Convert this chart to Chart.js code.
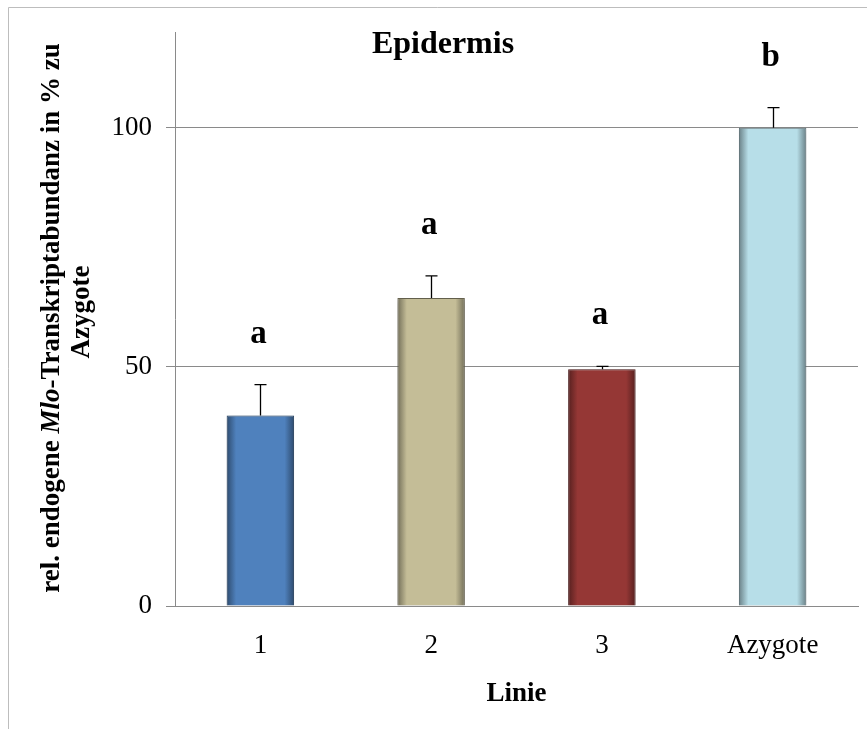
<!DOCTYPE html>
<html>
<head>
<meta charset="utf-8">
<script src="https://cdn.jsdelivr.net/npm/chart.js@4.4.1/dist/chart.umd.min.js"></script>
<style>
  html, body { margin: 0; padding: 0; background: #ffffff; }
  #wrap { width: 867px; height: 729px; position: relative; }
</style>
</head>
<body>
<div id="wrap"><canvas id="chart" width="867" height="729"></canvas></div>
<script>
// Relative endogenous Mlo transcript abundance (epidermis), % of azygote
const categories = ['1', '2', '3', 'Azygote'];
const means = [39.8, 64.4, 49.5, 100];
const errors = [6.5, 4.6, 0.6, 4.2];
const groupLetters = ['a', 'a', 'a', 'b'];
const yTicks = [0, 50, 100];

const SERIF = "'Liberation Serif', 'Times New Roman', serif";
const barColors = ['#4F81BD', '#C4BD97', '#953735', '#B7DEE8'];
const BAR_PCT = 0.395;
const AXIS_GREY = '#8a8a8a';

function shade(hex, f) {
  const n = parseInt(hex.slice(1), 16);
  const r = Math.round(((n >> 16) & 255) * f);
  const g = Math.round(((n >> 8) & 255) * f);
  const b = Math.round((n & 255) * f);
  return `rgb(${r},${g},${b})`;
}

// Horizontal gradient: darker at the bar edges, flat in the middle
function barFill(ctx) {
  const i = ctx.dataIndex;
  if (ctx.type !== 'data') return barColors[0];
  const base = barColors[i];
  const chart = ctx.chart;
  const xs = chart.scales && chart.scales.x;
  if (!xs || !chart.chartArea || !isFinite(xs.width) || xs.width <= 0) return base;
  const cx = xs.getPixelForValue(i);
  const w = (xs.width / categories.length) * BAR_PCT;
  const g = chart.ctx.createLinearGradient(cx - w / 2, 0, cx + w / 2, 0);
  const edge = shade(base, 0.58);
  g.addColorStop(0, edge);
  g.addColorStop(0.14, base);
  g.addColorStop(0.86, base);
  g.addColorStop(1, edge);
  return g;
}

const decorations = {
  id: 'decorations',
  beforeDraw(chart) {
    const c = chart.ctx;
    c.save();
    c.fillStyle = '#ffffff';
    c.fillRect(0, 0, chart.width, chart.height);
    // outer frame
    c.strokeStyle = '#bdbdbd';
    c.lineWidth = 1;
    c.beginPath();
    c.moveTo(8.5, chart.height);
    c.lineTo(8.5, 7.5);
    c.lineTo(chart.width, 7.5);
    c.stroke();
    c.restore();
  },
  beforeDatasetDraw(chart) {
    const c = chart.ctx;
    c.save();
    c.shadowColor = 'rgba(0,0,0,0.28)';
    c.shadowBlur = 6;
    c.shadowOffsetX = 0;
    c.shadowOffsetY = 1;
  },
  afterDatasetDraw(chart) {
    chart.ctx.restore();
  },
  afterDatasetsDraw(chart) {
    const c = chart.ctx;
    const xs = chart.scales.x, ys = chart.scales.y;
    c.save();
    // error bars (upper only)
    c.strokeStyle = '#000000';
    c.lineWidth = 1.3;
    means.forEach((m, i) => {
      const x = Math.round(xs.getPixelForValue(i)) + 0.5;
      const y0 = ys.getPixelForValue(m);
      const y1 = ys.getPixelForValue(m + errors[i]);
      c.beginPath();
      c.moveTo(x, y0);
      c.lineTo(x, y1);
      c.moveTo(x - 6, y1);
      c.lineTo(x + 6, y1);
      c.stroke();
    });
    // significance letters
    c.fillStyle = '#000000';
    c.font = `bold 33px ${SERIF}`;
    c.textAlign = 'center';
    c.textBaseline = 'alphabetic';
    means.forEach((m, i) => {
      const x = xs.getPixelForValue(i);
      const y1 = ys.getPixelForValue(m + errors[i]);
      c.fillText(groupLetters[i], x - 2, y1 - 42);
    });
    // chart title
    c.font = `bold 32px ${SERIF}`;
    c.fillText('Epidermis', 443, 53);
    // x axis title
    c.font = `bold 27px ${SERIF}`;
    c.fillText('Linie', (chart.chartArea.left + chart.chartArea.right) / 2, 701);
    // y axis title (two lines, rotated, with italic gene name)
    const parts = [
      { t: 'rel. endogene ', f: `bold 27px ${SERIF}` },
      { t: 'Mlo', f: `italic bold 27px ${SERIF}` },
      { t: '-Transkriptabundanz in % zu', f: `bold 27px ${SERIF}` }
    ];
    let total = 0;
    parts.forEach(p => { c.font = p.f; p.w = c.measureText(p.t).width; total += p.w; });
    const cy = 318;
    c.translate(59, cy);
    c.rotate(-Math.PI / 2);
    c.textAlign = 'left';
    let x = -total / 2;
    parts.forEach(p => { c.font = p.f; c.fillText(p.t, x, 0); x += p.w; });
    c.textAlign = 'center';
    c.font = `bold 27px ${SERIF}`;
    c.fillText('Azygote', 6, 30);
    c.restore();
  }
};

new Chart(document.getElementById('chart'), {
  type: 'bar',
  data: {
    labels: categories,
    datasets: [{
      data: means,
      backgroundColor: barFill,
      borderColor: barColors.map(h => shade(h, 0.55)),
      borderWidth: 1,
      categoryPercentage: 1,
      barPercentage: BAR_PCT
    }]
  },
  options: {
    responsive: false,
    animation: false,
    devicePixelRatio: 1,
    layout: { padding: { top: 32, right: 9, left: 0, bottom: 0 } },
    plugins: {
      legend: { display: false },
      title: { display: false },
      tooltip: { enabled: false }
    },
    scales: {
      x: {
        grid: { display: false, drawTicks: false },
        border: { display: true, color: AXIS_GREY, width: 1 },
        ticks: { color: '#000000', font: { family: SERIF, size: 27 }, padding: 24, maxRotation: 0 },
        afterFit(scale) { scale.height = 123; }
      },
      y: {
        min: 0,
        max: 120,
        grid: { color: AXIS_GREY, lineWidth: 1, tickLength: 9, drawTicks: true },
        border: { display: true, color: AXIS_GREY, width: 1 },
        ticks: { color: '#000000', font: { family: SERIF, size: 27 }, padding: 14 },
        afterBuildTicks(scale) { scale.ticks = yTicks.map(v => ({ value: v })); },
        afterFit(scale) { scale.width = 175; }
      }
    }
  },
  plugins: [decorations]
});
</script>
</body>
</html>
